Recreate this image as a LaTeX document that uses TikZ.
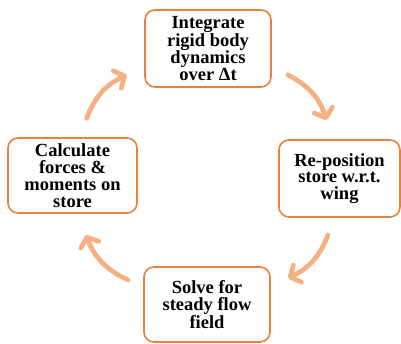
\documentclass[tikz,border=0pt]{standalone}
\usepackage{fontspec}
\setmainfont{Liberation Serif}
\usetikzlibrary{arrows.meta}
\definecolor{boxorange}{RGB}{232,128,62}
\definecolor{arroworange}{RGB}{244,177,131}
\tikzset{
  stepbox/.style={draw=boxorange, line width=1.6pt, rounded corners=10pt, fill=white,
    align=center, inner sep=0pt, font=\fontsize{18.5}{16.8}\selectfont\bfseries, text=black},
  cyclearrow/.style={draw=arroworange, line width=4.8pt, line cap=round,
    -{Straight Barb[length=8pt,width=19pt,line cap=round,line join=round]}, bend left=22}
}
\begin{document}
\begin{tikzpicture}[x=1pt,y=1pt]
\useasboundingbox (0,0) rectangle (401,344);
\node[stepbox, minimum width=126pt, minimum height=77pt] (top) at (208,295.5) {Integrate\\rigid body\\dynamics\\over Δt};
\node[stepbox, minimum width=121pt, minimum height=77pt] (right) at (339.5,165.5) {Re-position\\store w.r.t.\\wing};
\node[stepbox, minimum width=129pt, minimum height=75pt] (left) at (72.5,168.5) {Calculate\\forces \&\\moments on\\store};
\node[stepbox, minimum width=126pt, minimum height=75pt] (bottom) at (207,39.5) {Solve for\\steady flow\\field};
\coordinate (a1s) at (86.7,225.7);
\coordinate (a1e) at (126.7,269);
\coordinate (a2s) at (288,269);
\coordinate (a2e) at (326.7,224);
\coordinate (a3s) at (328,109);
\coordinate (a3e) at (288,66);
\coordinate (a4s) at (128,64);
\coordinate (a4e) at (86,109);
\draw[cyclearrow] (a1s) to (a1e);
\draw[cyclearrow] (a2s) to (a2e);
\draw[cyclearrow] (a3s) to (a3e);
\draw[cyclearrow] (a4s) to (a4e);
\end{tikzpicture}
\end{document}
